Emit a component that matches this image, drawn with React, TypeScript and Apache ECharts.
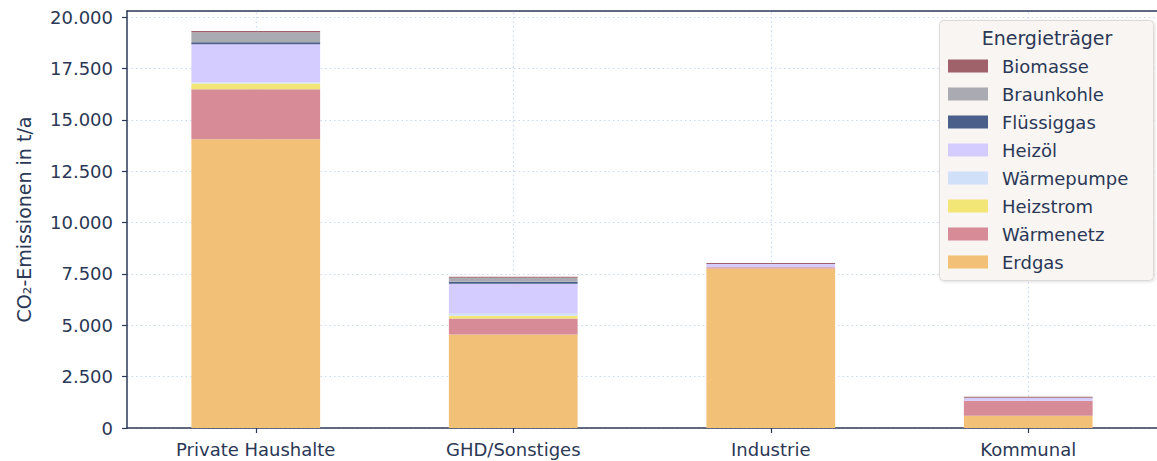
import React, { useEffect, useRef } from "react";
import * as echarts from "echarts";

const categories = ["Private Haushalte", "GHD/Sonstiges", "Industrie", "Kommunal"];
const erdgas = [14060, 4550, 7760, 600];
const waermenetz = [2430, 780, 68, 729];
const heizstrom = [277, 131, 0, 0];
const waermepumpe = [63, 98, 0, 0];
const heizoel = [1848, 1458, 161, 146];
const fluessiggas = [97, 98, 0, 0];
const braunkohle = [486, 195, 0, 0];
const biomasse = [63, 49, 48, 49];
const yTicks = { min: 0, max: 20300, interval: 2500 };
const legendTitle = "Energieträger";
const yName = "CO₂-Emissionen in t/a";

const FONT = "DejaVu Sans";
const TXT = "#2b3856";

const seriesDefs = [
  { name: "Erdgas", data: erdgas, color: "#f2c077" },
  { name: "Wärmenetz", data: waermenetz, color: "#d68b97" },
  { name: "Heizstrom", data: heizstrom, color: "#f2e676" },
  { name: "Wärmepumpe", data: waermepumpe, color: "#cfe0f8" },
  { name: "Heizöl", data: heizoel, color: "#d4ccff" },
  { name: "Flüssiggas", data: fluessiggas, color: "#4a5f8a" },
  { name: "Braunkohle", data: braunkohle, color: "#aaaab2" },
  { name: "Biomasse", data: biomasse, color: "#a0626a" },
];

export default function App() {
  const ref = useRef<HTMLDivElement>(null);
  useEffect(() => {
    document.body.style.margin = "0";
    const chart = echarts.init(ref.current!, null, { renderer: "svg" });
    const gridStyle = { color: "#c9daf0", type: [1.5, 3], width: 1.2 };
    chart.setOption({
      animation: false,
      textStyle: { fontFamily: FONT, color: TXT },
      grid: { left: 127, top: 11, width: 1036, height: 417 },
      xAxis: [
        {
          type: "category",
          data: categories,
          axisLine: { show: true, lineStyle: { color: TXT, width: 1.5 } },
          axisTick: { show: true, alignWithLabel: true, length: 5, lineStyle: { color: TXT, width: 1.2 } },
          axisLabel: { fontFamily: FONT, fontSize: 18, color: TXT, margin: 12 },
          splitLine: { show: false },
        },
        {
          type: "category",
          data: categories,
          position: "top",
          axisLine: { show: true, lineStyle: { color: TXT, width: 1.5 } },
          axisTick: { show: false },
          axisLabel: { show: false },
          splitLine: { show: false },
        },
      ],
      yAxis: {
        type: "value",
        min: yTicks.min,
        max: yTicks.max,
        interval: yTicks.interval,
        name: yName,
        nameLocation: "middle",
        nameGap: 94,
        nameTextStyle: { fontFamily: FONT, fontSize: 19, color: TXT },
        axisLine: { show: true, lineStyle: { color: TXT, width: 1.5 } },
        axisTick: { show: true, length: 5, lineStyle: { color: TXT, width: 1.2 } },
        axisLabel: {
          fontFamily: FONT,
          fontSize: 18,
          color: TXT,
          margin: 14,
          showMaxLabel: false,
          formatter: (v: number) => v.toLocaleString("de-DE"),
        },
        splitLine: { show: true, lineStyle: gridStyle },
      },
      legend: {
        orient: "vertical",
        left: 948,
        top: 56,
        padding: 0,
        z: 20,
        itemWidth: 40,
        itemHeight: 13,
        itemGap: 8,
        icon: "rect",
        data: seriesDefs.map((s) => s.name).reverse(),
        textStyle: { fontFamily: FONT, fontSize: 18, color: TXT, lineHeight: 20, padding: [0, 0, 0, 9] },
      },
      graphic: [
        {
          type: "rect",
          left: 939,
          top: 20,
          z: 10,
          shape: { width: 214, height: 260, r: 4 },
          style: { fill: "#f8f5f2", stroke: "#dddad7", lineWidth: 1, shadowBlur: 3, shadowColor: "rgba(0,0,0,0.12)", shadowOffsetX: 1, shadowOffsetY: 1 },
        },
        {
          type: "text",
          x: 1047,
          y: 38,
          z: 11,
          style: { text: legendTitle, font: `19px "${FONT}"`, fill: TXT, align: "center", verticalAlign: "middle" },
        },
      ],
      series: [
        {
          name: "_grid",
          type: "line",
          data: [],
          z: 0,
          silent: true,
          markLine: {
            silent: true,
            z: 0,
            symbol: ["none", "none"],
            label: { show: false },
            lineStyle: gridStyle,
            emphasis: { disabled: true },
            data: categories.map((c) => ({ xAxis: c })),
          },
        },
        ...seriesDefs.map((s) => ({
          name: s.name,
          type: "bar",
          stack: "total",
          data: s.data,
          barWidth: "50%",
          z: 2,
          itemStyle: { color: s.color },
          emphasis: { disabled: true },
        })),
      ],
    });
    return () => chart.dispose();
  }, []);
  return <div ref={ref} style={{ width: 1157, height: 461 }} />;
}
